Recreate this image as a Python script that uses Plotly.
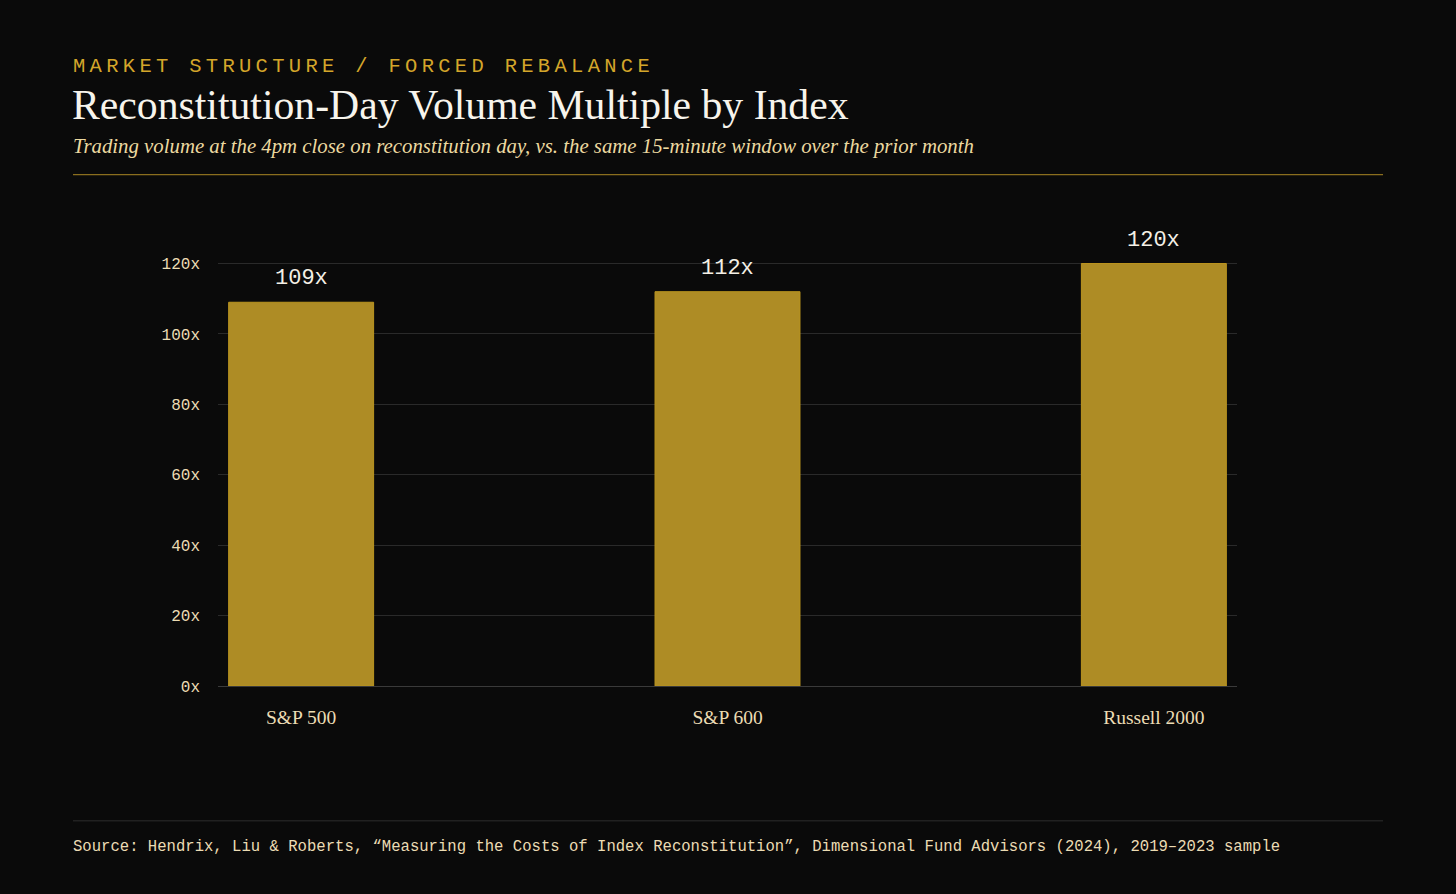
import plotly.graph_objects as go

categories = ["S&P 500", "S&P 600", "Russell 2000"]
values = [109, 112, 120]
value_labels = ["109x", "112x", "120x"]
y_ticks = [0, 20, 40, 60, 80, 100, 120]
y_tick_labels = ["0x", "20x", "40x", "60x", "80x", "100x", "120x"]

kicker = "MARKET STRUCTURE / FORCED REBALANCE"
title = "Reconstitution-Day Volume Multiple by Index"
subtitle = "Trading volume at the 4pm close on reconstitution day, vs. the same 15-minute window over the prior month"
source = ("Source: Hendrix, Liu &amp; Roberts, \u201cMeasuring the Costs of Index Reconstitution\u201d, "
          "Dimensional Fund Advisors (2024), 2019\u20132023 sample")

BG = "#0a0a0a"
GOLD = "#d4a62a"
PALE = "#ecdcb4"
SERIF = "Liberation Serif, Times New Roman, serif"
MONO = "Liberation Mono, DejaVu Sans Mono, monospace"

W, H = 1456, 894
L, R, T, B = 218, 219, 260, 207.5
PW, PH = W - L - R, H - T - B


def px(x):
    return (x - L) / PW


def py(y):
    return (H - B - y) / PH


fig = go.Figure()
fig.add_trace(go.Bar(
    x=categories, y=values, width=0.34,
    marker=dict(color="#ae8c25", line=dict(color="#bb951f", width=1)),
    hoverinfo="skip",
))

for c, v, t in zip(categories, values, value_labels):
    fig.add_annotation(x=c, y=v, text=t, showarrow=False, yanchor="bottom", yshift=9,
                       font=dict(family=MONO, size=22, color="#f4f0e6"))

fig.add_annotation(xref="paper", yref="paper", x=px(71), y=py(66),
                   xanchor="left", yanchor="middle", showarrow=False,
                   text=f'<span style="letter-spacing:4.3px">{kicker}</span>',
                   font=dict(family=MONO, size=20.5, color=GOLD))
fig.add_annotation(xref="paper", yref="paper", x=px(70), y=py(105),
                   xanchor="left", yanchor="middle", showarrow=False, text=title,
                   font=dict(family=SERIF, size=41.7, color="#f7f4ec"))
fig.add_annotation(xref="paper", yref="paper", x=px(71), y=py(146),
                   xanchor="left", yanchor="middle", showarrow=False, text=f"<i>{subtitle}</i>",
                   font=dict(family=SERIF, size=20.8, color="#ecd9a0"))
fig.add_annotation(xref="paper", yref="paper", x=px(71), y=py(848),
                   xanchor="left", yanchor="middle", showarrow=False, text=source,
                   font=dict(family=MONO, size=15.6, color=PALE))

fig.add_shape(type="line", xref="paper", yref="paper",
              x0=px(73), x1=px(1383), y0=py(174.5), y1=py(174.5),
              line=dict(color="#8a6e1e", width=1.3))
fig.add_shape(type="line", xref="paper", yref="paper",
              x0=px(73), x1=px(1383), y0=py(821.5), y1=py(821.5),
              line=dict(color="#2e2e2e", width=1))

fig.update_layout(
    width=W, height=H,
    margin=dict(l=L, r=R, t=T, b=B),
    paper_bgcolor=BG, plot_bgcolor=BG,
    showlegend=False,
    xaxis=dict(range=[-0.195, 2.195], showgrid=False, zeroline=False,
               showline=False, ticks="", ticklabelstandoff=17,
               tickfont=dict(family=SERIF, size=19.5, color=PALE)),
    yaxis=dict(range=[0, 121], tickvals=y_ticks, ticktext=y_tick_labels,
               showgrid=True, gridcolor="#2a2a2a", gridwidth=1,
               zeroline=True, zerolinecolor="#3a3a3a", zerolinewidth=1,
               showline=False, ticks="", ticklabelstandoff=17,
               tickfont=dict(family=MONO, size=16, color=PALE)),
)

fig.write_html(
    "out.html",
    config={"displayModeBar": False},
    post_script="document.body.style.margin='0';document.body.style.background='#0a0a0a';",
)
